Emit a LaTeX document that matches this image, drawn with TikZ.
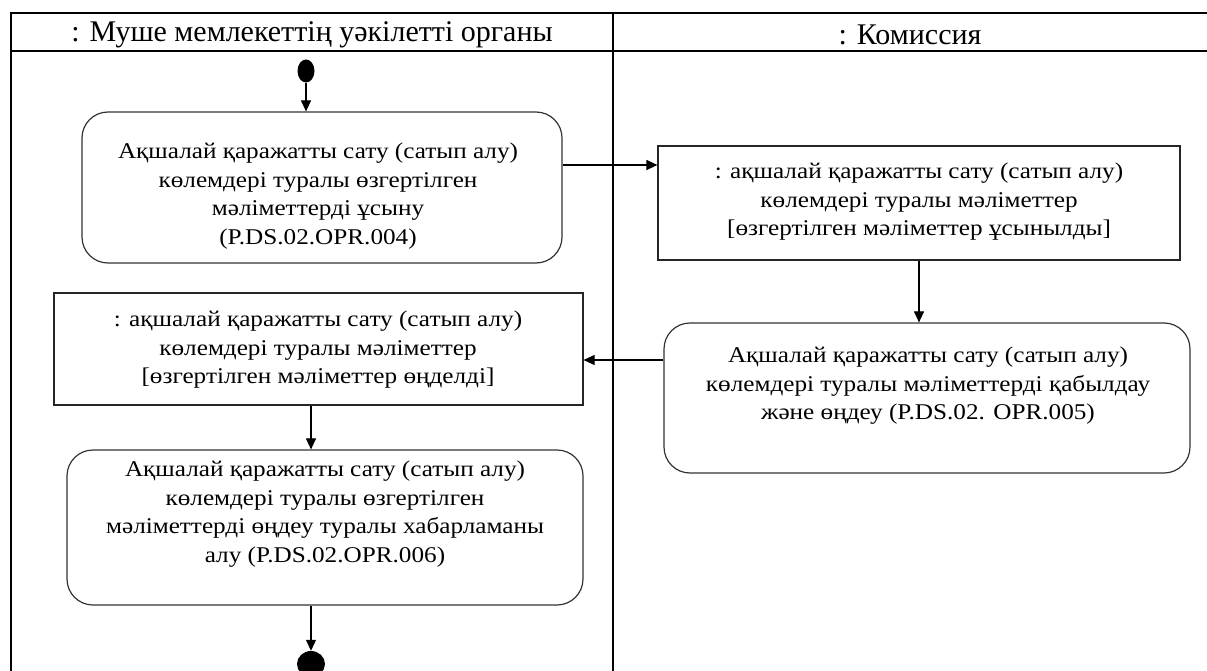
\documentclass[tikz,border=0pt]{standalone}
\usepackage{fontspec}
\setmainfont{Liberation Serif}
\newfontfamily\boxfont{Liberation Serif}[FakeStretch=1.12]
\usetikzlibrary{arrows.meta,calc,shapes.geometric}
\begin{document}
\begin{tikzpicture}[x=1pt,y=-1pt,
  lane/.style={draw=black,line width=1.5pt},
  actbox/.style={draw=black!80,line width=1.2pt,rounded corners=26pt},
  objbox/.style={draw=black!85,line width=1.2pt},
  txt/.style={align=center,inner sep=0pt,font=\boxfont\fontsize{22.5}{28.5}\selectfont},
  head/.style={inner sep=0pt,font=\fontsize{30}{32}\selectfont},
  arr/.style={draw=black,line width=1.1pt,-{Triangle[length=11pt,width=10pt]}},
  blackdot/.style={fill=black,ellipse,inner sep=0pt}
]
\useasboundingbox (0,0) rectangle (1207,671);
% swimlanes
\coordinate (tl) at (11,13);
\coordinate (tr) at (1207,13);
\coordinate (hl) at (11,51);
\coordinate (hr) at (1207,51);
\coordinate (bl) at (11,680);
\coordinate (mt) at (613,13);
\coordinate (mb) at (613,680);
\draw[lane] (bl) -- (tl) -- (tr);
\draw[lane] (hl) -- (hr);
\draw[lane] (mt) -- (mb);
\node[head] (h1) at (312,34.5) {: Муше мемлекеттің уәкілетті органы};
\node[head] (h2) at (910,34.5) {: Комиссия};
% start
\node[blackdot,minimum width=17pt,minimum height=23pt] (start) at (306,71) {};
% boxes
\node[actbox,minimum width=480pt,minimum height=151pt,inner sep=0pt] (b1) at (322,187.5) {};
\node[txt] (b1t) at (318,196) {Ақшалай қаражатты сату (сатып алу)\\ көлемдері туралы өзгертілген\\ мәліметтерді ұсыну\\ (P.DS.02.OPR.004)};
\node[objbox,minimum width=522pt,minimum height=114pt,inner sep=0pt] (b2) at (919,203) {};
\node[txt] (b2t) at (919,202) {: ақшалай қаражатты сату (сатып алу)\\ көлемдері туралы мәліметтер\\ {[}өзгертілген мәліметтер ұсынылды{]}};
\node[actbox,minimum width=526pt,minimum height=150pt,inner sep=0pt] (b3) at (927,398) {};
\node[txt] (b3t) at (928,386) {Ақшалай қаражатты сату (сатып алу)\\ көлемдері туралы мәліметтерді қабылдау\\ және өңдеу (P.DS.02. OPR.005)};
\node[objbox,minimum width=529pt,minimum height=112pt,inner sep=0pt] (b4) at (318.5,349) {};
\node[txt] (b4t) at (318,350) {: ақшалай қаражатты сату (сатып алу)\\ көлемдері туралы мәліметтер\\ {[}өзгертілген мәліметтер өңделді{]}};
\node[actbox,minimum width=516pt,minimum height=155pt,inner sep=0pt] (b5) at (325,527.5) {};
\node[txt] (b5t) at (325,514) {Ақшалай қаражатты сату (сатып алу)\\ көлемдері туралы өзгертілген\\ мәліметтерді өңдеу туралы хабарламаны\\ алу (P.DS.02.OPR.006)};
% end
\node[blackdot,minimum width=28pt,minimum height=26pt] (end) at (311,664) {};
% connectors
\draw[arr] (start.south) -- (start.south |- b1.north);
\draw[arr] (b1.east |- 0,165) -- (b2.west |- 0,165);
\draw[arr] (b2.south) -- (b2.south |- b3.north);
\draw[arr] (b3.west |- 0,360) -- (b4.east |- 0,360);
\draw[arr] (b4.south -| 311,0) -- (b5.north -| 311,0);
\draw[arr] (b5.south -| 311,0) -- (end.north);
\end{tikzpicture}
\end{document}
